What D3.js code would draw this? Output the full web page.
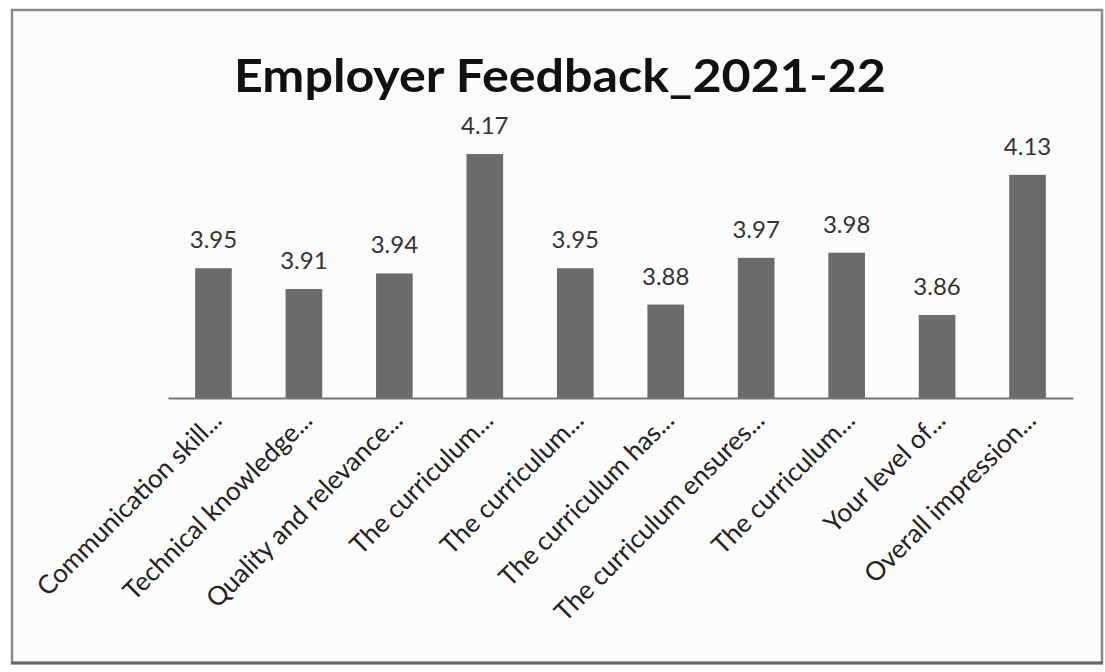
<!DOCTYPE html>
<html>
<head>
<meta charset="utf-8">
<script src="https://cdn.jsdelivr.net/npm/d3@7/dist/d3.min.js"></script>
<style>
  html, body { margin: 0; padding: 0; background: #ffffff; }
  svg { display: block; }
</style>
</head>
<body>
<svg id="chart" width="1105" height="672"></svg>
<script>
const title = "Employer Feedback_2021-22";
const categories = [
  "Communication skill...",
  "Technical knowledge...",
  "Quality and relevance...",
  "The curriculum...",
  "The curriculum...",
  "The curriculum has...",
  "The curriculum ensures...",
  "The curriculum...",
  "Your level of...",
  "Overall impression..."
];
const values = [3.95, 3.91, 3.94, 4.17, 3.95, 3.88, 3.97, 3.98, 3.86, 4.13];
const yDomain = [3.7, 4.2];

const W = 1105, H = 672;
const svg = d3.select("#chart");
const fontFam = "Lato, 'Open Sans', 'DejaVu Sans', sans-serif";

// frame
svg.append("rect").attr("x", 0).attr("y", 0).attr("width", W).attr("height", H).attr("fill", "#ffffff");
svg.append("rect")
  .attr("x", 12).attr("y", 10).attr("width", 1090).attr("height", 653)
  .attr("fill", "#fcfcfc").attr("stroke", "#8a8a8a").attr("stroke-width", 2.5);
svg.append("line").attr("x1", 11).attr("x2", 1103).attr("y1", 663).attr("y2", 663)
  .attr("stroke", "#666").attr("stroke-width", 3);

const x = d3.scaleBand().domain(d3.range(categories.length)).range([168, 1073]).paddingInner(0.595).paddingOuter(0.3);
const y = d3.scaleLinear().domain(yDomain).range([398, 138.5]);

// title
svg.append("text")
  .attr("x", 560).attr("y", 92)
  .attr("text-anchor", "middle")
  .attr("font-family", fontFam)
  .attr("font-weight", "bold")
  .attr("font-size", 46)
  .attr("fill", "#111")
  .attr("textLength", 652)
  .attr("lengthAdjust", "spacingAndGlyphs")
  .text(title);

// bars
svg.append("g").selectAll("rect").data(values).join("rect")
  .attr("x", (d, i) => x(i))
  .attr("width", x.bandwidth())
  .attr("y", d => y(d))
  .attr("height", d => y(yDomain[0]) - y(d))
  .attr("fill", "#6b6b6b");

// baseline axis
const xAxis = d3.axisBottom(x).tickSize(0).tickFormat("");
const gx = svg.append("g").attr("transform", `translate(0,${y(yDomain[0])})`).call(xAxis);
gx.select(".domain").attr("stroke", "#777").attr("stroke-width", 2);

// value labels
svg.append("g").selectAll("text").data(values).join("text")
  .attr("x", (d, i) => x(i) + x.bandwidth() / 2)
  .attr("y", d => y(d) - 20)
  .attr("text-anchor", "middle")
  .attr("font-family", fontFam)
  .attr("font-size", 24)
  .attr("fill", "#333")
  .text(d => d.toFixed(2));

// category labels (rotated -45)
svg.append("g").selectAll("text").data(categories).join("text")
  .attr("transform", (d, i) => `translate(${x(i) + x.bandwidth() / 2 + 10},${y(yDomain[0]) + 24}) rotate(-45)`)
  .attr("text-anchor", "end")
  .attr("font-family", fontFam)
  .attr("font-size", 26)
  .attr("fill", "#222")
  .text(d => d);
</script>
</body>
</html>
